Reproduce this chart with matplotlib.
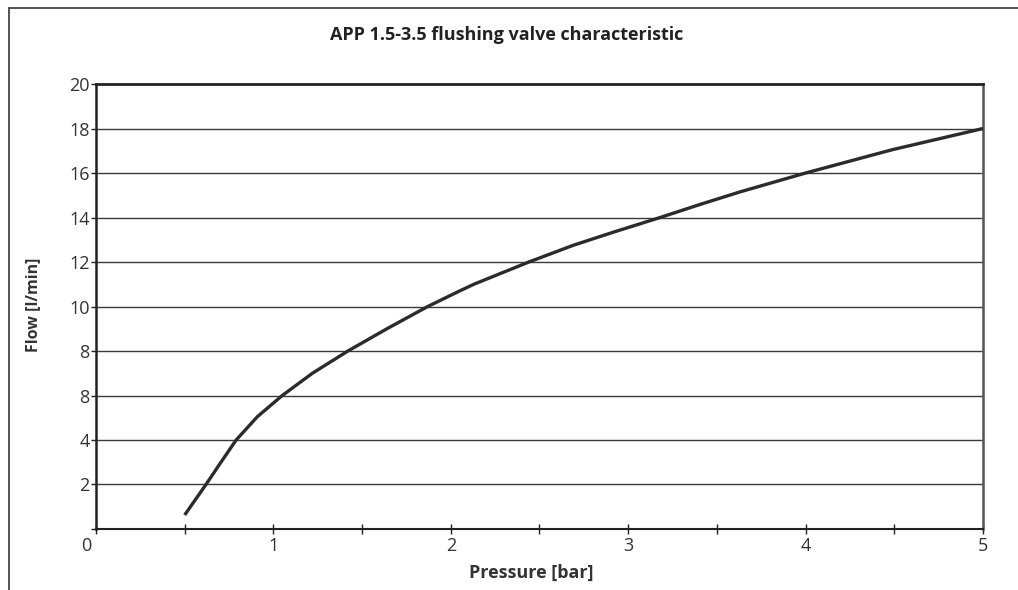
import numpy as np
import matplotlib.pyplot as plt
import matplotlib as mpl
from matplotlib.patches import Rectangle
from matplotlib.transforms import ScaledTranslation

mpl.rcParams['font.family'] = ['Open Sans', 'DejaVu Sans']

# curve
pressure = [0.50, 0.62, 0.70, 0.79, 0.91, 1.05, 1.22, 1.42, 1.64, 1.87, 2.05, 2.13,
            2.44, 2.69, 2.92, 3.18, 3.41, 3.63, 4.0, 4.49, 5.0]
flow = [0.63, 2.0, 2.95, 4.0, 5.05, 6.0, 7.0, 8.0, 9.0, 10.0, 10.7, 11.0,
        12.0, 12.75, 13.35, 14.0, 14.6, 15.15, 16.0, 17.05, 18.0]

y_ticks = [2, 4, 6, 8, 10, 12, 14, 16, 18, 20]
y_labels = ["2", "4", "8", "8", "10", "12", "14", "16", "18", "20"]
x_ticks = [0, 1, 2, 3, 4, 5]
x_labels = ["0", "1", "2", "3", "4", "5"]

fig = plt.figure(figsize=(10.18, 5.90), dpi=100)
ax = fig.add_axes([0.0943, 0.1034, 0.8713, 0.7542])

# outer frame
fig.patches.append(Rectangle((0.0088, -0.02), 1.1, 1.0064, transform=fig.transFigure,
                             fill=False, edgecolor="#444444", linewidth=1.3, clip_on=False))

for yv in y_ticks[:-1]:
    ax.axhline(yv, color="#3a3a3a", linewidth=1.0, zorder=1)

ax.plot(pressure, flow, color="#2b2b2b", linewidth=2.4, solid_capstyle="butt",
        solid_joinstyle="round", zorder=3)

ax.set_xlim(0, 5)
ax.set_ylim(0, 20)

ax.set_yticks([0] + y_ticks, labels=[""] + y_labels)
ax.set_xticks(x_ticks, labels=x_labels)
ax.set_xticks(np.arange(0.5, 5, 1.0), minor=True)

ax.tick_params(axis="y", direction="out", length=3.5, width=1, pad=1,
               labelsize=13, labelcolor="#333333", color="#222222")
ax.tick_params(axis="x", which="both", direction="inout", length=7, width=1, pad=2,
               labelsize=13, labelcolor="#333333", color="#222222")

# "0" sits left of the origin
lbl0 = ax.get_xticklabels()[0]
lbl0.set_transform(lbl0.get_transform() + ScaledTranslation(-10 / 100, 0, fig.dpi_scale_trans))

ax.spines["top"].set_linewidth(2.0)
ax.spines["top"].set_color("#222222")
ax.spines["left"].set_linewidth(1.8)
ax.spines["left"].set_color("#222222")
ax.spines["right"].set_linewidth(1.8)
ax.spines["right"].set_color("#555555")
ax.spines["bottom"].set_linewidth(1.5)
ax.spines["bottom"].set_color("#222222")

fig.text(507 / 1018, 1 - 35 / 590, "APP 1.5-3.5 flushing valve characteristic",
         ha="center", va="center", fontsize=13, fontweight="bold", color="#222222")
fig.text(531 / 1018, 1 - 573 / 590, "Pressure [bar]", ha="center", va="center",
         fontsize=13, fontweight="bold", color="#333333")
fig.text(33 / 1018, 1 - 305 / 590, "Flow [l/min]", ha="center", va="center", rotation=90,
         fontsize=11.5, fontweight="bold", color="#333333")

plt.savefig("out.png", dpi=100)
